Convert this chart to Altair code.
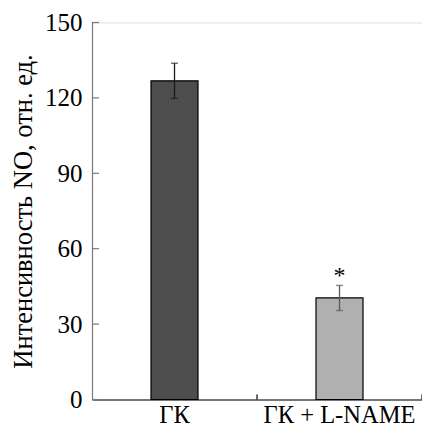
import altair as alt
import pandas as pd

categories = ["ГК", "ГК + L-NAME"]
values = [126.8, 40.4]
errors = [7.0, 5.0]
marks = ["", "*"]
bar_colors = ["#4d4d4d", "#b0b0b0"]
err_colors = ["#1a1a1a", "#5a5a5a"]
y_ticks = [0, 30, 60, 90, 120, 150]

df = pd.DataFrame({
    "cat": categories,
    "val": values,
    "lo": [v - e for v, e in zip(values, errors)],
    "hi": [v + e for v, e in zip(values, errors)],
    "mark": marks,
    "bc": bar_colors,
    "ec": err_colors,
})
ticks_df = pd.DataFrame({"t": y_ticks})

FONT = "'Liberation Serif', 'Times New Roman', Times"
W, H = 330, 377

xscale = alt.Scale(domain=categories, paddingInner=0, paddingOuter=0)
yscale = alt.Scale(domain=[0, 150], nice=False)

base = alt.Chart(df)

bars = base.mark_bar(size=47, stroke="black", strokeWidth=1.2).encode(
    x=alt.X("cat:N", scale=xscale, sort=categories,
            axis=alt.Axis(title=None, labelAngle=0, ticks=False, labelPadding=3.5,
                          labelFontSize=24.5, labelFont=FONT, labelColor="black",
                          domainColor="black", domainWidth=1.2)),
    y=alt.Y("val:Q", scale=yscale,
            axis=alt.Axis(title="Интенсивность NO, отн. ед.", values=y_ticks, ticks=False,
                          labelPadding=10, labelFontSize=25, labelFont=FONT,
                          labelColor="black", titleFont=FONT, titleFontSize=26.5,
                          titleFontWeight="normal", titleColor="black", titlePadding=7,
                          domainColor="#7a7a7a", domainWidth=1.2, grid=False)),
    fill=alt.Fill("bc:N", scale=None),
)

err = base.mark_rule(strokeWidth=1.3).encode(
    x=alt.X("cat:N", sort=categories), y="lo:Q", y2="hi:Q",
    color=alt.Color("ec:N", scale=None),
)
cap_hi = base.mark_tick(size=7, thickness=1.3).encode(
    x=alt.X("cat:N", sort=categories), y="hi:Q", color=alt.Color("ec:N", scale=None))
cap_lo = base.mark_tick(size=7, thickness=1.3).encode(
    x=alt.X("cat:N", sort=categories), y="lo:Q", color=alt.Color("ec:N", scale=None))

star = base.mark_text(font=FONT, fontSize=24, color="black", baseline="alphabetic", dy=-2).encode(
    x=alt.X("cat:N", sort=categories), y="hi:Q", text="mark:N")

ytick_marks = alt.Chart(ticks_df).mark_rule(color="#7a7a7a", strokeWidth=1.2).encode(
    y="t:Q", x=alt.value(0), x2=alt.value(7))

xtick_marks = base.mark_rule(color="black", strokeWidth=1.2).encode(
    x=alt.X("cat:N", sort=categories, bandPosition=1),
    y=alt.value(H - 5), y2=alt.value(H))

chart = alt.layer(bars, err, cap_hi, cap_lo, star, ytick_marks, xtick_marks).properties(
    width=W, height=H,
    autosize=alt.AutoSizeParams(type="none"),
    padding={"left": 84, "top": 14.5, "right": 0, "bottom": 28.5},
).configure_view(stroke=None).configure(background="white")

chart.save("out.html", embed_options={"renderer": "svg", "actions": False})
